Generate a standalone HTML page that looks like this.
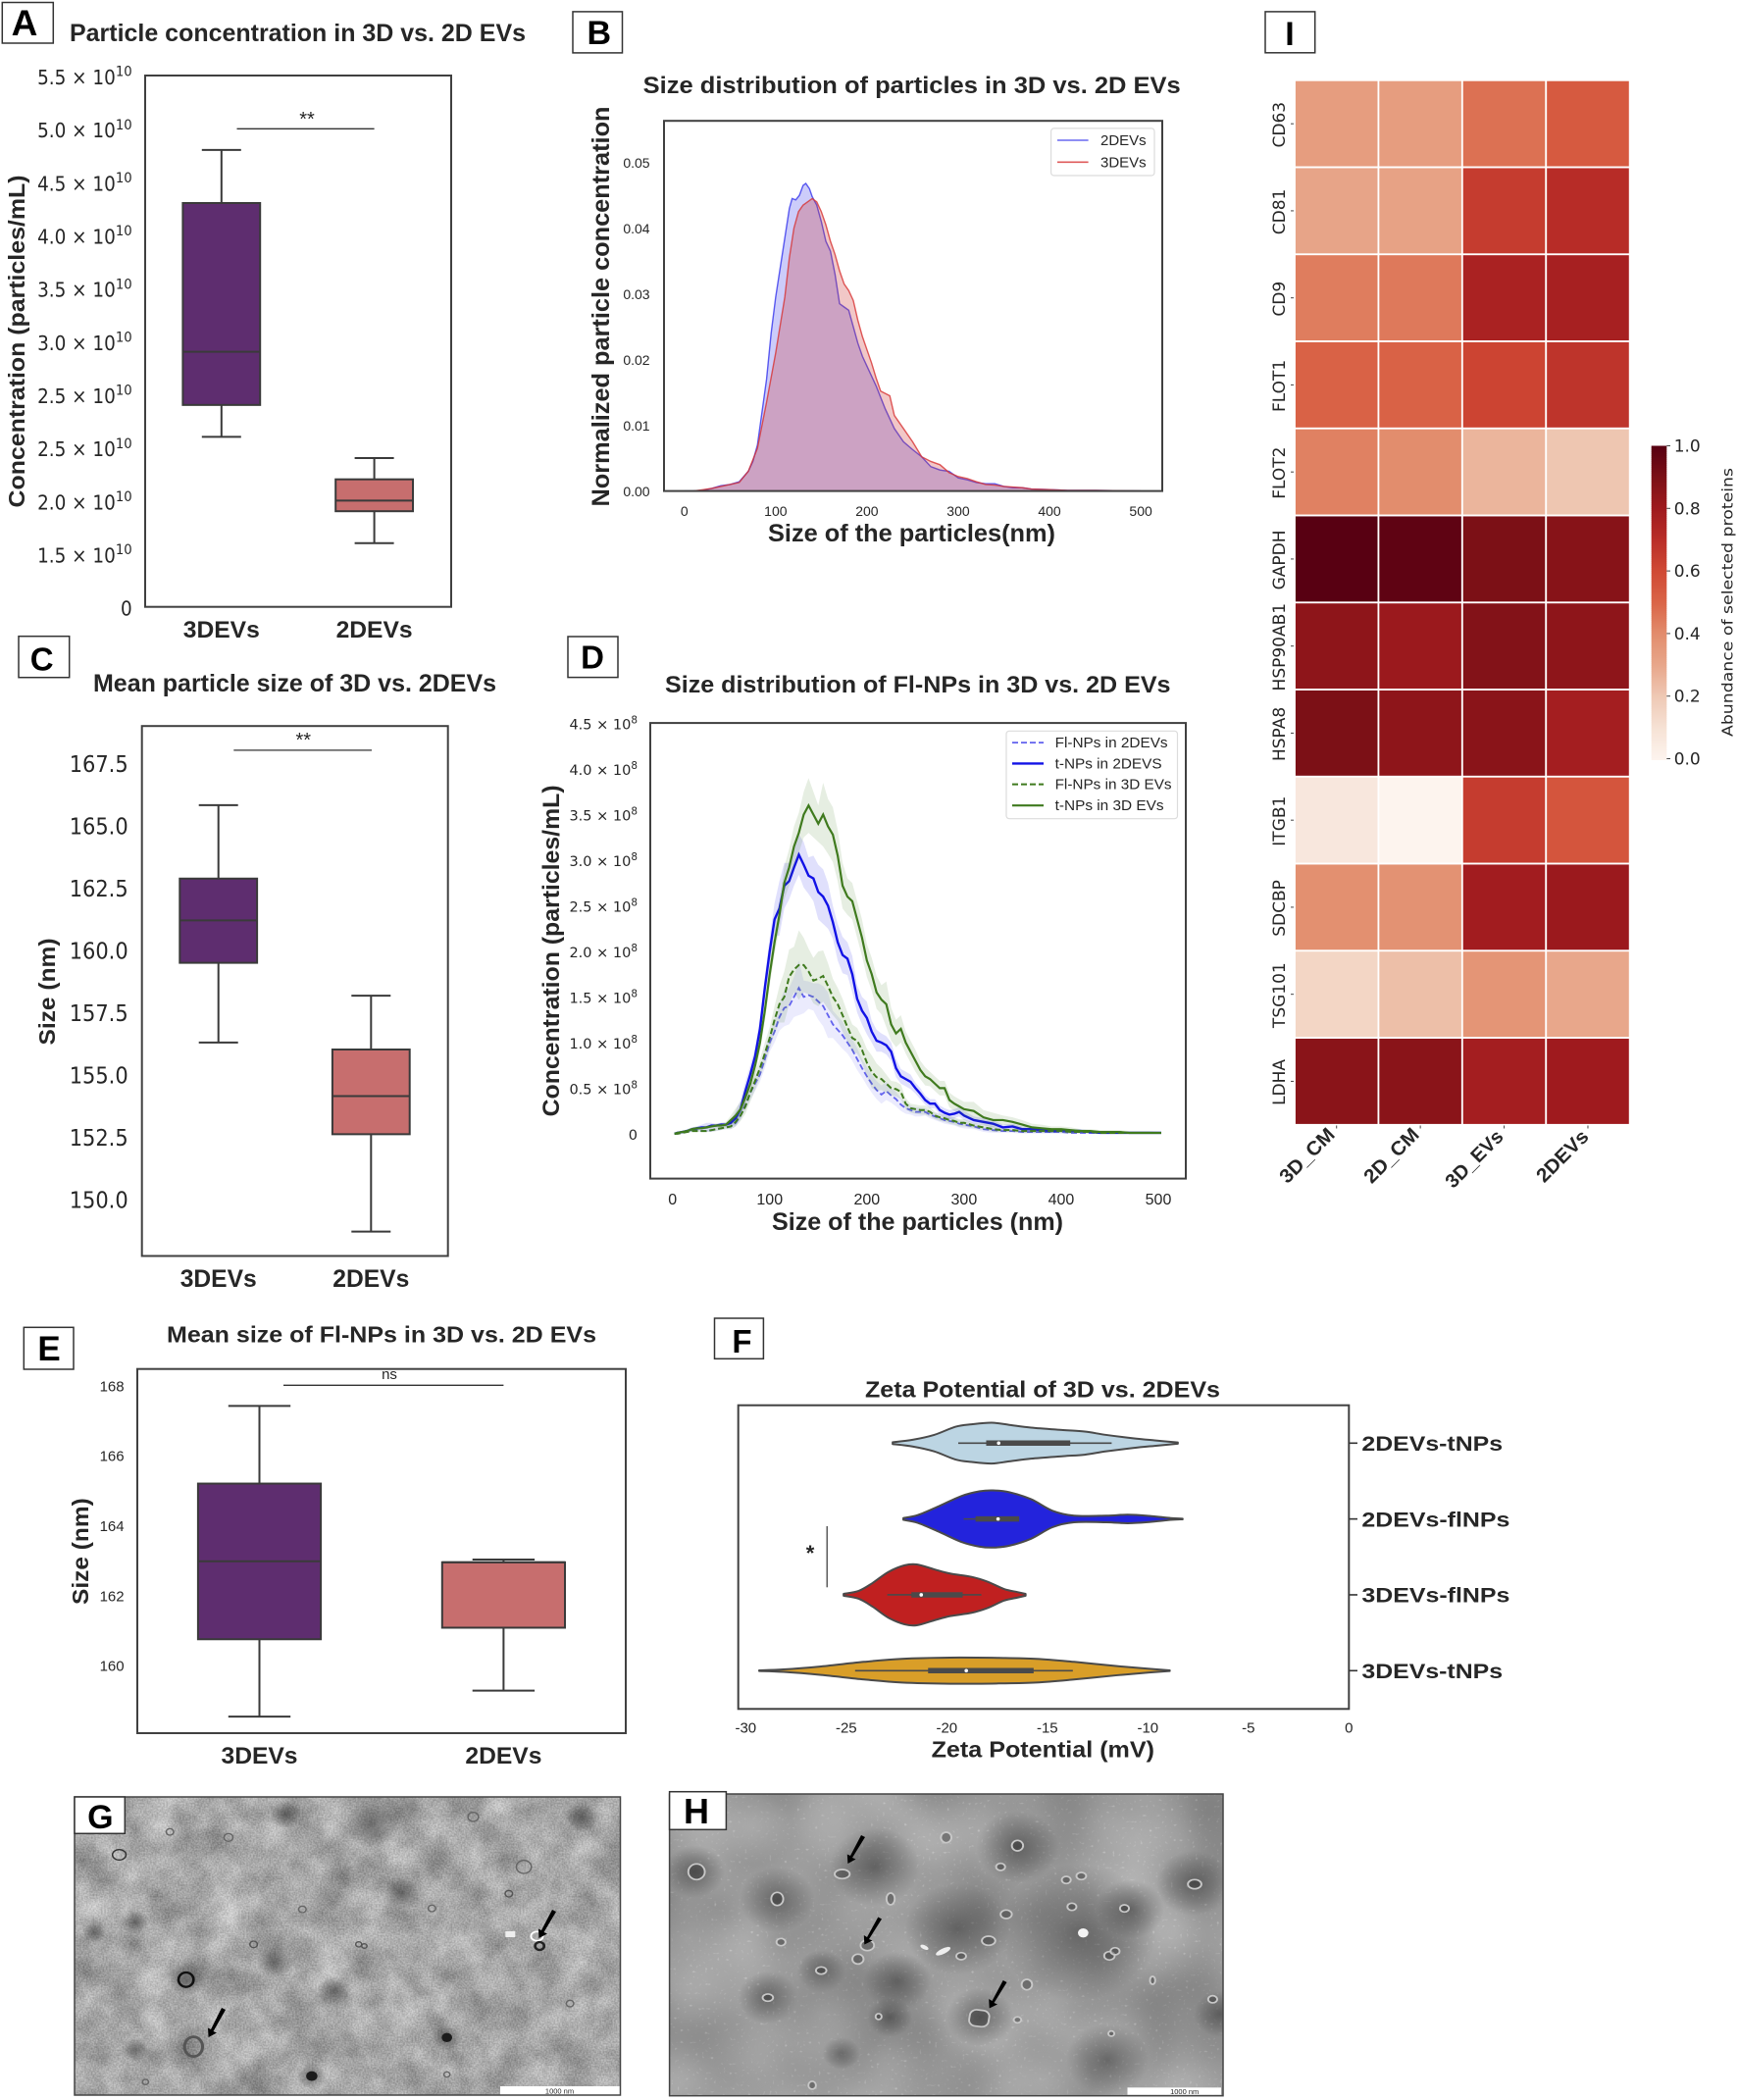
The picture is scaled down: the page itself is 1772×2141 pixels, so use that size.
<!DOCTYPE html>
<html lang="en">
<head>
<meta charset="utf-8">
<title>Characterisation of 3D vs. 2D EVs</title>
<style>
html,body{margin:0;padding:0;background:#fff;}
svg{display:block;}
text{font-family:"Liberation Sans",sans-serif;fill:#262626;}
.b{font-weight:bold;}
.letter{font-weight:bold;fill:#000;text-anchor:middle;}
.dj{font-family:"DejaVu Sans",sans-serif;}
.frame{fill:none;stroke:#404040;stroke-width:2;}
.lbox{fill:#fff;stroke:#333;stroke-width:1.5;}
.mid{text-anchor:middle;}
</style>
</head>
<body>
<svg id="fig" xmlns="http://www.w3.org/2000/svg" width="1772" height="2141" viewBox="0 0 1772 2141">
<defs>
<radialGradient id="cloud"><stop offset="0" stop-color="#2a2a2a" stop-opacity=".5"/><stop offset=".55" stop-color="#2a2a2a" stop-opacity=".25"/><stop offset="1" stop-color="#2a2a2a" stop-opacity="0"/></radialGradient>
<radialGradient id="lightCloud"><stop offset="0" stop-color="#b4b4b4" stop-opacity=".5"/><stop offset="1" stop-color="#b4b4b4" stop-opacity="0"/></radialGradient>
<filter id="texG" x="0" y="0" width="100%" height="100%" color-interpolation-filters="sRGB">
<feTurbulence type="fractalNoise" baseFrequency=".028" numOctaves="3" seed="7" result="n1"/>
<feColorMatrix in="n1" type="matrix" values=".5 0 0 0 .38  .5 0 0 0 .38  .5 0 0 0 .38  0 0 0 0 1" result="low"/>
<feTurbulence type="fractalNoise" baseFrequency=".6" numOctaves="1" seed="3" result="n2"/>
<feColorMatrix in="n2" type="matrix" values="1.3 0 0 0 .05  1.3 0 0 0 .05  1.3 0 0 0 .05  0 0 0 0 1" result="high"/>
<feComposite in="low" in2="high" operator="arithmetic" k1="0" k2=".8" k3=".24" k4="-.02"/>
</filter>
<filter id="texH" x="0" y="0" width="100%" height="100%" color-interpolation-filters="sRGB">
<feTurbulence type="fractalNoise" baseFrequency=".01" numOctaves="2" seed="11" result="n1"/>
<feColorMatrix in="n1" type="matrix" values=".3 0 0 0 .46  .3 0 0 0 .46  .3 0 0 0 .46  0 0 0 0 1" result="low"/>
<feTurbulence type="fractalNoise" baseFrequency=".32" numOctaves="1" seed="5" result="n2"/>
<feColorMatrix in="n2" type="matrix" values="6 0 0 0 -3.9  6 0 0 0 -3.9  6 0 0 0 -3.9  0 0 0 0 1" result="high"/>
<feComposite in="low" in2="high" operator="arithmetic" k1="0" k2="1" k3=".1" k4="0"/>
</filter>
<clipPath id="clipG"><rect x="76" y="1832" width="556.5" height="304"/></clipPath>
<clipPath id="clipH"><rect x="682.6" y="1829" width="564.4" height="307.7"/></clipPath>
</defs>
<rect width="1772" height="2141" fill="#fff"/>

<!-- Panel A -->
<g id="panelA">
<rect class="lbox" x="2.3" y="2.5" width="52" height="41.5"/>
<text class="letter" x="25" y="36" font-size="37">A</text>
<text class="b" x="71" y="42" font-size="25" textLength="465" lengthAdjust="spacingAndGlyphs">Particle concentration in 3D vs. 2D EVs</text>
<text class="b mid" transform="translate(25,348) rotate(-90)" font-size="23" textLength="339" lengthAdjust="spacingAndGlyphs">Concentration (particles/mL)</text>
<rect class="frame" x="148" y="77" width="312" height="541.7"/>
</g>

<!-- Panel B -->
<g id="panelB">
<rect class="lbox" x="584" y="11.9" width="50.5" height="42"/>
<text class="letter" x="610.8" y="45" font-size="34">B</text>
<text class="b" x="655.7" y="95" font-size="24" textLength="548" lengthAdjust="spacingAndGlyphs">Size distribution of particles in 3D vs. 2D EVs</text>
<text class="b mid" transform="translate(621,312.5) rotate(-90)" font-size="25" textLength="408" lengthAdjust="spacingAndGlyphs">Normalized particle concentration</text>
<text class="b mid" x="929.5" y="552" font-size="25" textLength="293" lengthAdjust="spacingAndGlyphs">Size of the particles(nm)</text>
</g>

<!-- Panel C -->
<g id="panelC">
<rect class="lbox" x="19" y="648.7" width="51.7" height="42"/>
<text class="letter" x="42.7" y="683.4" font-size="33">C</text>
<text class="b" x="95" y="705" font-size="25" textLength="411" lengthAdjust="spacingAndGlyphs">Mean particle size of 3D vs. 2DEVs</text>
<text class="b mid" transform="translate(56,1011) rotate(-90)" font-size="23" textLength="109" lengthAdjust="spacingAndGlyphs">Size (nm)</text>
<rect class="frame" x="144.7" y="740.2" width="312" height="540.3"/>
</g>

<!-- Panel D -->
<g id="panelD">
<rect class="lbox" x="579" y="649" width="51" height="41.6"/>
<text class="letter" x="604" y="681.6" font-size="33">D</text>
<text class="b" x="678" y="706" font-size="24" textLength="515.5" lengthAdjust="spacingAndGlyphs">Size distribution of Fl-NPs in 3D vs. 2D EVs</text>
<text class="b mid" transform="translate(570,969.4) rotate(-90)" font-size="24" textLength="338" lengthAdjust="spacingAndGlyphs">Concentration (particles/mL)</text>
<text class="b mid" x="935.5" y="1254" font-size="25" textLength="297" lengthAdjust="spacingAndGlyphs">Size of the particles (nm)</text>
</g>

<!-- Panel E -->
<g id="panelE">
<rect class="lbox" x="24.3" y="1353.3" width="50.7" height="42.7"/>
<text class="letter" x="50" y="1387" font-size="35">E</text>
<text class="b mid" x="389" y="1368.3" font-size="23" textLength="438" lengthAdjust="spacingAndGlyphs">Mean size of Fl-NPs in 3D vs. 2D EVs</text>
<text class="b mid" transform="translate(90,1581.6) rotate(-90)" font-size="23" textLength="108.7" lengthAdjust="spacingAndGlyphs">Size (nm)</text>
<rect class="frame" x="140" y="1395.7" width="498" height="371.3"/>
</g>

<!-- Panel F -->
<g id="panelF">
<rect class="lbox" x="728.5" y="1344" width="49.9" height="41.3"/>
<text class="letter" x="756.5" y="1379" font-size="33">F</text>
<text class="b mid" x="1063" y="1424.3" font-size="23" textLength="362" lengthAdjust="spacingAndGlyphs">Zeta Potential of 3D vs. 2DEVs</text>
<text class="b mid" x="1063.3" y="1791.7" font-size="23" textLength="227.4" lengthAdjust="spacingAndGlyphs">Zeta Potential (mV)</text>
<rect class="frame" x="752.7" y="1432.7" width="622.6" height="309.6"/>
<line x1="843.2" y1="1556" x2="843.2" y2="1618.3" stroke="#333" stroke-width="1.2"/>
<text class="b mid" x="826" y="1591" font-size="22">*</text>
</g>

<!-- Panel G micrograph -->
<g id="panelG">
<rect x="76" y="1832" width="556.5" height="304" fill="#a8a8a8" filter="url(#texG)"/>
<g clip-path="url(#clipG)"><g transform="translate(50,1820) scale(.3827,.3333)">
<circle cx="860" cy="120" r="70" fill="url(#cloud)"/><circle cx="1060" cy="775" r="40" fill="url(#cloud)"/><circle cx="365" cy="595" r="50" fill="url(#cloud)"/><circle cx="700" cy="890" r="40" fill="url(#cloud)"/><circle cx="760" cy="630" r="45" fill="url(#cloud)"/><circle cx="230" cy="810" r="35" fill="url(#cloud)"/><circle cx="120" cy="450" r="30" fill="url(#cloud)"/><circle cx="1420" cy="100" r="45" fill="url(#cloud)"/><circle cx="630" cy="90" r="40" fill="url(#cloud)"/><circle cx="230" cy="420" r="35" fill="url(#cloud)"/><circle cx="600" cy="540" r="50" fill="url(#cloud)"/><circle cx="940" cy="330" r="50" fill="url(#cloud)"/>
<g fill="none" stroke="#333" stroke-width="4">
<ellipse cx="187" cy="213" rx="18" ry="16"/>
<ellipse cx="365" cy="595" rx="20" ry="22" stroke="#111" stroke-width="7"/>
<ellipse cx="385" cy="800" rx="24" ry="30" stroke="#555" stroke-width="8"/>
<ellipse cx="1265" cy="250" rx="20" ry="20" stroke="#666"/>
<ellipse cx="1130" cy="97" rx="14" ry="14" stroke="#666"/>
<ellipse cx="1300" cy="462" rx="16" ry="14" stroke="#fff" stroke-width="5"/>
<ellipse cx="1307" cy="492" rx="12" ry="12" stroke="#222" stroke-width="7"/>
<ellipse cx="478" cy="160" rx="12" ry="12" stroke="#666"/>
<ellipse cx="322" cy="143" rx="10" ry="10" stroke="#666"/>
<ellipse cx="825" cy="487" rx="8" ry="8" stroke="#555"/>
<ellipse cx="840" cy="492" rx="7" ry="7" stroke="#555"/>
<ellipse cx="545" cy="487" rx="10" ry="10" stroke="#555"/>
<ellipse cx="257" cy="908" rx="8" ry="8" stroke="#666"/>
<ellipse cx="1225" cy="332" rx="10" ry="10" stroke="#555"/>
<ellipse cx="1020" cy="377" rx="10" ry="10" stroke="#666"/>
<ellipse cx="1388" cy="668" rx="10" ry="10" stroke="#666"/>
<ellipse cx="1060" cy="885" rx="8" ry="8" stroke="#666"/>
<ellipse cx="675" cy="380" rx="10" ry="10" stroke="#666"/>
</g>
<circle cx="700" cy="890" r="15" fill="#1c1c1c"/>
<circle cx="1060" cy="772" r="14" fill="#1c1c1c"/>
<rect x="1216" y="447" width="26" height="18" fill="#eee"/>
</g></g>
<polygon points="226,2047 230,2049 217.5,2071 221,2072.5 212.6,2077 212,2067.5 215,2069" fill="#000"/>
<polygon points="563,1947 567,1949 554.5,1970 558,1971.5 549.4,1976 549,1966.5 552,1968" fill="#000"/>
<rect x="510" y="2127" width="122" height="8.6" fill="#fff"/>
<text class="mid" x="570.5" y="2134.5" font-size="7.5">1000 nm</text>
<rect x="76" y="1832" width="556.5" height="304" fill="none" stroke="#444" stroke-width="1.5"/>
<rect class="lbox" x="76" y="1832" width="51.3" height="37.3"/>
<text class="letter" x="102.4" y="1864" font-size="34">G</text>
</g>

<!-- Panel H micrograph -->
<g id="panelH">
<rect x="682.6" y="1829" width="564.4" height="307.7" fill="#999" filter="url(#texH)"/>
<g clip-path="url(#clipH)"><g transform="translate(670,1820) scale(.3827,.3333)">
<circle cx="580" cy="250" r="120" fill="url(#cloud)"/><circle cx="100" cy="265" r="80" fill="url(#cloud)"/><circle cx="320" cy="350" r="100" fill="url(#cloud)"/><circle cx="960" cy="190" r="110" fill="url(#cloud)"/><circle cx="1430" cy="300" r="100" fill="url(#cloud)"/><circle cx="800" cy="440" r="140" fill="url(#cloud)"/><circle cx="1120" cy="450" r="210" fill="url(#cloud)"/><circle cx="1200" cy="840" r="110" fill="url(#cloud)"/><circle cx="860" cy="710" r="90" fill="url(#cloud)"/><circle cx="295" cy="650" r="80" fill="url(#cloud)"/><circle cx="437" cy="570" r="65" fill="url(#cloud)"/><circle cx="640" cy="600" r="90" fill="url(#cloud)"/><circle cx="1260" cy="380" r="90" fill="url(#cloud)"/><circle cx="620" cy="710" r="60" fill="url(#cloud)"/><circle cx="490" cy="820" r="50" fill="url(#cloud)"/><circle cx="1500" cy="700" r="70" fill="url(#cloud)"/>
<circle cx="440" cy="700" r="170" fill="url(#lightCloud)"/><circle cx="480" cy="110" r="120" fill="url(#lightCloud)"/><circle cx="80" cy="470" r="130" fill="url(#lightCloud)"/><circle cx="1030" cy="900" r="130" fill="url(#lightCloud)"/><circle cx="250" cy="130" r="110" fill="url(#lightCloud)"/>
<g fill="rgba(40,40,40,.4)" stroke="#c8c8c8" stroke-width="5">
<ellipse cx="105" cy="265" rx="22" ry="24"/>
<ellipse cx="493" cy="272" rx="20" ry="14"/>
<ellipse cx="320" cy="348" rx="16" ry="20"/>
<ellipse cx="622" cy="348" rx="11" ry="18"/>
<ellipse cx="770" cy="160" rx="14" ry="16"/>
<ellipse cx="960" cy="185" rx="15" ry="16"/>
<ellipse cx="915" cy="250" rx="12" ry="11"/>
<ellipse cx="1090" cy="290" rx="12" ry="11"/>
<ellipse cx="1130" cy="278" rx="13" ry="11"/>
<ellipse cx="1432" cy="303" rx="18" ry="14"/>
<ellipse cx="930" cy="395" rx="15" ry="13"/>
<ellipse cx="1105" cy="372" rx="12" ry="11"/>
<ellipse cx="1245" cy="377" rx="12" ry="11"/>
<ellipse cx="883" cy="476" rx="18" ry="14"/>
<ellipse cx="560" cy="490" rx="18" ry="16"/>
<ellipse cx="535" cy="532" rx="15" ry="15"/>
<ellipse cx="1205" cy="522" rx="14" ry="13"/>
<ellipse cx="1220" cy="508" rx="12" ry="11"/>
<ellipse cx="810" cy="523" rx="13" ry="11"/>
<ellipse cx="330" cy="480" rx="12" ry="11"/>
<ellipse cx="437" cy="567" rx="14" ry="11"/>
<ellipse cx="295" cy="650" rx="14" ry="11"/>
<rect x="832" y="688" width="52" height="50" rx="18" transform="rotate(8 858 713)"/>
<ellipse cx="985" cy="610" rx="14" ry="16"/>
<ellipse cx="960" cy="718" rx="10" ry="9"/>
<ellipse cx="590" cy="708" rx="8" ry="9"/>
<ellipse cx="1320" cy="597" rx="7" ry="12"/>
<ellipse cx="413" cy="918" rx="10" ry="12"/>
<ellipse cx="1480" cy="655" rx="12" ry="11"/>
<ellipse cx="1210" cy="760" rx="8" ry="8"/>
</g>
<circle cx="1135" cy="452" r="14" fill="#f4f4f4"/>
<ellipse cx="762" cy="508" rx="22" ry="8" fill="#eee" transform="rotate(-30 762 508)"/>
<ellipse cx="712" cy="496" rx="12" ry="6" fill="#eee" transform="rotate(30 712 496)"/>
</g></g>
<polygon points="878,1871 882,1873 869,1894 872.5,1895.5 864.4,1900 863.8,1890.5 867,1892" fill="#000"/>
<polygon points="895.3,1954.5 899,1956.5 886,1977 889.5,1978.5 881.3,1982.5 880.8,1973 884,1975" fill="#000"/>
<polygon points="1022.7,2019 1026.5,2021 1013.5,2042 1017,2043.5 1008.7,2047.5 1008.2,2038 1011.5,2040" fill="#000"/>
<rect x="1149.5" y="2128.3" width="95.5" height="7.4" fill="#fff"/>
<text class="mid" x="1207.7" y="2135" font-size="7.5">1000 nm</text>
<rect x="682.6" y="1829" width="564.4" height="307.7" fill="none" stroke="#444" stroke-width="1.5"/>
<rect class="lbox" x="682.6" y="1826.7" width="57.8" height="38.6"/>
<text class="letter" x="710" y="1859" font-size="36">H</text>
</g>

<!-- Panel I -->
<g id="panelI">
<rect class="lbox" x="1290" y="11.9" width="50.7" height="41.9"/>
<text class="letter" x="1315" y="46" font-size="34">I</text>
<text class="dj mid" transform="translate(1766.7,614) rotate(-90)" font-size="15.5" textLength="274" lengthAdjust="spacingAndGlyphs">Abundance of selected proteins</text>
</g>
</svg>

<script>
/* ---------- Panel A data (true axis units x1e10; printed tick labels kept as in the figure) ---------- */
const panelACategories = ['3DEVs', '2DEVs'];
const panelAWhiskerHigh = [4.30, 1.40];
const panelAQ3 = [3.80, 1.20];
const panelAMedian = [2.40, 1.00];
const panelAQ1 = [1.90, 0.90];
const panelAWhiskerLow = [1.60, 0.60];
const panelATickValues = [0, 0.5, 1, 1.5, 2, 2.5, 3, 3.5, 4, 4.5, 5];
const panelATickLabels = ['0', '1.5', '2.0', '2.5', '2.5', '3.0', '3.5', '4.0', '4.5', '5.0', '5.5'];

/* ---------- Panel B data ---------- */
const panelBSizes2D = [0,10,20,30,40,50,60,70,75,80,90,95,100,105,110,115,118,122,126,130,133,137,140,145,150,155,160,165,170,175,180,185,190,195,200,210,220,230,240,250,260,270,280,290,300,310,320,330,340,350,360,370,380,400,420,450,500];
const panelBValues2D = [0,0,.0001,.0004,.0008,.001,.0014,.003,.0045,.007,.017,.024,.0295,.034,.0385,.043,.0445,.0443,.045,.0465,.0468,.046,.0448,.0435,.041,.038,.0365,.033,.0285,.028,.0275,.025,.0225,.0205,.019,.016,.0125,.0095,.0075,.0063,.0052,.0037,.0032,.003,.002,.0017,.0013,.0011,.0011,.0007,.0005,.0005,.0003,.0002,.0001,.0001,0];
const panelBSizes3D = [10,15,20,30,40,50,60,70,80,90,100,110,115,120,125,130,135,140,145,150,155,160,165,170,175,180,185,190,195,200,205,210,215,225,230,240,250,260,270,280,290,300,310,320,330,340,350,360,370,380,400,420,450,500];
const panelBValues3D = [0,.0001,.0002,.0004,.0007,.001,.0013,.003,.0065,.0135,.021,.0295,.0355,.04,.0425,.0435,.044,.0445,.044,.0425,.0405,.038,.036,.0335,.0315,.0305,.029,.026,.0235,.0215,.0195,.0172,.0152,.0145,.0115,.0095,.0075,.0052,.0045,.004,.0028,.0022,.0019,.0014,.001,.0009,.0007,.0006,.0005,.0003,.0002,.0001,.0001,0];
const panelBXTicks = [0, 100, 200, 300, 400, 500];
const panelBYTicks = ['0.00', '0.01', '0.02', '0.03', '0.04', '0.05'];

/* ---------- Panel C data ---------- */
const panelCCategories = ['3DEVs', '2DEVs'];
const panelCWhiskerHigh = [165.81, 158.16];
const panelCQ3 = [162.86, 156.0];
const panelCMedian = [161.18, 154.13];
const panelCQ1 = [159.48, 152.6];
const panelCWhiskerLow = [156.28, 148.69];
const panelCTicks = ['150.0', '152.5', '155.0', '157.5', '160.0', '162.5', '165.0', '167.5'];

/* ---------- Panel D data (x1e8 particles/mL) ---------- */
const panelDSizes = [2,5,10,15,20,25,30,35,40,45,50,55,60,65,70,75,80,85,90,95,100,105,110,115,120,125,130,135,140,145,150,155,160,165,170,175,180,185,190,195,200,205,210,215,220,225,230,235,240,245,250,255,260,265,270,275,280,285,290,295,300,310,320,330,340,350,360,370,380,390,400,410,420,430,440,450,460,470,480,490,503];
const tNps3D = [0,.01,.02,.03,.05,.06,.06,.07,.08,.09,.09,.1,.15,.2,.27,.4,.55,.75,1.0,1.35,1.75,2.1,2.4,2.75,2.92,3.15,3.3,3.5,3.6,3.5,3.4,3.5,3.37,3.28,3.05,2.72,2.6,2.55,2.35,2.15,1.9,1.75,1.55,1.47,1.42,1.2,1.1,1.15,1.0,.9,.8,.7,.63,.6,.55,.5,.5,.37,.33,.3,.27,.25,.18,.15,.15,.13,.1,.07,.06,.05,.05,.04,.03,.03,.02,.02,.02,.01,.01,.01,.01];
const tNps2D = [0,.01,.02,.03,.05,.06,.07,.07,.09,.09,.1,.1,.12,.17,.27,.47,.65,.85,1.15,1.6,2.0,2.35,2.47,2.72,2.77,2.92,3.06,2.95,2.83,2.8,2.65,2.6,2.5,2.32,2.1,1.96,1.92,1.75,1.48,1.35,1.27,1.12,1.02,1.0,.97,.9,.72,.63,.6,.57,.5,.44,.37,.33,.33,.26,.23,.21,.22,.24,.2,.15,.13,.11,.07,.08,.05,.05,.04,.03,.04,.03,.03,.02,.01,.01,.01,.01,.01,.01,.01];
const flNps3D = [0,0,.01,.02,.03,.03,.03,.03,.04,.05,.06,.07,.08,.13,.2,.3,.45,.58,.72,.88,1.05,1.25,1.42,1.5,1.72,1.8,1.85,1.85,1.78,1.68,1.7,1.73,1.62,1.5,1.42,1.3,1.17,1.05,1.02,.92,.78,.68,.62,.6,.55,.5,.49,.46,.33,.28,.27,.26,.26,.24,.2,.18,.17,.15,.14,.12,.12,.09,.07,.05,.04,.04,.03,.03,.03,.03,.03,.02,.02,.02,.01,.01,.01,.01,.01,.01,.01];
const flNps2D = [0,0,.01,.02,.03,.04,.03,.03,.04,.05,.06,.07,.08,.12,.2,.32,.45,.55,.65,.82,1.0,1.12,1.28,1.38,1.4,1.5,1.6,1.5,1.52,1.5,1.45,1.4,1.3,1.2,1.14,1.08,1.0,.92,.82,.72,.63,.55,.48,.43,.47,.42,.38,.32,.28,.26,.24,.24,.24,.21,.19,.17,.15,.14,.13,.11,.1,.08,.05,.04,.03,.03,.02,.02,.02,.02,.02,.01,.01,.01,.01,.01,.01,.01,.01,.01,.01];
const tNps3DSpread = [0,.01,.01,.02,.02,.02,.02,.02,.02,.02,.03,.03,.05,.08,.08,.08,.08,.1,.1,.12,.13,.13,.15,.18,.2,.22,.22,.25,.3,.25,.2,.35,.3,.3,.28,.25,.2,.2,.2,.2,.18,.18,.18,.16,.25,.18,.15,.15,.12,.12,.12,.1,.1,.08,.08,.08,.08,.08,.08,.08,.08,.1,.08,.08,.05,.05,.05,.04,.04,.03,.03,.03,.02,.02,.02,.02,.02,.02,.02,.02,.01];
const tNps2DSpread = [0,.01,.01,.02,.02,.02,.03,.05,.03,.02,.02,.02,.03,.08,.1,.1,.1,.1,.12,.12,.15,.18,.3,.25,.2,.2,.22,.25,.2,.25,.3,.3,.25,.18,.2,.2,.18,.2,.15,.15,.18,.12,.12,.1,.1,.1,.1,.08,.08,.08,.06,.06,.05,.05,.05,.05,.05,.05,.05,.05,.05,.04,.04,.04,.03,.03,.03,.03,.02,.02,.02,.02,.02,.02,.01,.01,.01,.01,.01,.01,.01];
const flNps3DSpread = [0,0,.01,.01,.01,.01,.01,.01,.02,.02,.02,.02,.03,.05,.06,.08,.1,.1,.1,.12,.12,.15,.2,.28,.3,.25,.38,.3,.25,.25,.3,.28,.25,.2,.18,.18,.16,.15,.14,.14,.15,.18,.15,.12,.1,.08,.08,.08,.06,.05,.05,.05,.05,.05,.04,.04,.04,.04,.04,.04,.04,.03,.03,.03,.02,.02,.02,.02,.02,.02,.02,.02,.01,.01,.01,.01,.01,.01,.01,.01,.01];
const flNps2DSpread = [0,0,.01,.01,.01,.01,.01,.01,.02,.02,.02,.02,.03,.04,.05,.06,.08,.08,.08,.1,.1,.12,.15,.2,.2,.22,.3,.18,.15,.15,.2,.22,.25,.15,.15,.15,.12,.12,.12,.1,.1,.1,.1,.1,.1,.08,.08,.07,.06,.05,.05,.05,.04,.04,.04,.04,.04,.04,.04,.04,.04,.03,.03,.03,.02,.02,.02,.02,.02,.02,.02,.01,.01,.01,.01,.01,.01,.01,.01,.01,.01];
const panelDXTicks = [0, 100, 200, 300, 400, 500];
const panelDYTickValues = [0, 0.5, 1, 1.5, 2, 2.5, 3, 3.5, 4, 4.5];
const panelDYTickLabels = ['0', '0.5', '1.0', '1.5', '2.0', '2.5', '3.0', '3.5', '4.0', '4.5'];

/* ---------- Panel E data ---------- */
const panelECategories = ['3DEVs', '2DEVs'];
const panelEWhiskerHigh = [167.42, 163.03];
const panelEQ3 = [165.2, 162.95];
const panelEMedian = [162.98, 162.95];
const panelEQ1 = [160.75, 161.08];
const panelEWhiskerLow = [158.54, 159.28];
const panelETicks = [160, 162, 164, 166, 168];

/* ---------- Panel F data ---------- */
const zetaCategories = ['2DEVs-tNPs', '2DEVs-flNPs', '3DEVs-flNPs', '3DEVs-tNPs'];
const zetaColors = ['#bcd5e3', '#2323dc', '#c02020', '#d99e28'];
const zetaGrid2DT = [-22.69,-21.7,-20.63,-19.56,-18.76,-17.77,-16.89,-15.81,-14.21,-13.14,-12.07,-10.73,-9.66,-8.51];
const zetaDensity2DT = [.03,.11,.27,.54,.62,.67,.6,.51,.43,.38,.27,.16,.09,.02];
const zetaGrid2DF = [-22.16,-21.43,-20.36,-19.29,-18.36,-17.69,-16.89,-15.81,-14.74,-13.67,-12.07,-11,-9.93,-8.86,-8.27];
const zetaDensity2DF = [.03,.13,.43,.75,.91,.94,.88,.65,.27,.11,.11,.14,.1,.03,.01];
const zetaGrid3DF = [-25.13,-24.38,-23.71,-22.91,-22.1,-21.49,-20.63,-19.83,-18.76,-17.96,-17.15,-16.48,-16.08];
const zetaDensity3DF = [.03,.13,.38,.75,.97,1,.84,.7,.59,.43,.19,.09,.03];
const zetaGrid3DT = [-29.33,-28.12,-26.25,-24.11,-22.24,-19.83,-17.42,-15.55,-13.67,-11.53,-9.93,-8.91];
const zetaDensity3DT = [.01,.04,.14,.29,.39,.43,.42,.39,.29,.15,.06,.01];
const zetaWhiskerLow = [-19.43, -19.16, -22.96, -24.56];
const zetaQ1 = [-18.04, -18.57, -21.76, -20.93];
const zetaMedian = [-17.42, -17.45, -21.27, -19.03];
const zetaQ3 = [-13.86, -16.4, -19.21, -15.68];
const zetaWhiskerHigh = [-11.8, -16.4, -18.28, -13.73];
const zetaTicks = [-30, -25, -20, -15, -10, -5, 0];

/* ---------- Panel I data ---------- */
const heatmapProteins = ['CD63','CD81','CD9','FLOT1','FLOT2','GAPDH','HSP90AB1','HSPA8','ITGB1','SDCBP','TSG101','LDHA'];
const heatmapSamples = ['3D_CM','2D_CM','3D_EVs','2DEVs'];
const heatmap3DCM = [.34,.31,.44,.51,.43,1,.85,.9,.07,.39,.15,.86];
const heatmap2DCM = [.34,.32,.45,.51,.40,.98,.81,.85,0,.38,.23,.86];
const heatmap3DEVs = [.47,.65,.76,.62,.26,.9,.88,.86,.65,.79,.37,.78];
const heatmap2DEVs = [.54,.71,.77,.68,.21,.87,.85,.78,.56,.81,.3,.8];
const colorbarTicks = [0, 0.2, 0.4, 0.6, 0.8, 1];
const colormapStops = ['#fdf4ee','#f6e2d5','#efc9b5','#e8a78b','#e28d6d','#da6548','#d04a35','#ba2e28','#9f1a1e','#7c1016','#580012'];

/* ---------- drawing helpers ---------- */
const NS = 'http://www.w3.org/2000/svg';
function add(parent, tag, attrs, name) {
  const el = document.createElementNS(NS, tag);
  for (const k in attrs) el.setAttribute(k, attrs[k]);
  
  
  parent.appendChild(el);
  return el;
}
function addText(parent, attrs, str, name) {
  const el = add(parent, 'text', attrs, name);
  el.textContent = str;
  return el;
}
function linear(d0, d1, r0, r1) {
  return v => r0 + (v - d0) / (d1 - d0) * (r1 - r0);
}
function sciLabel(parent, x, y, mantissa, exp, size, name, squeeze) {
  const t = add(parent, 'text', {transform: 'translate(' + x + ',' + y + ') scale(' + (squeeze || 1) + ',1)', class: 'dj', 'text-anchor': 'end', 'font-size': size}, name);
  if (exp === null) { t.textContent = mantissa; return t; }
  t.textContent = mantissa + ' \u00d7 10';
  const s = document.createElementNS(NS, 'tspan');
  s.setAttribute('dy', -size * 0.42);
  s.setAttribute('font-size', size * 0.72);
  s.textContent = exp;
  t.appendChild(s);
  return t;
}
function drawBoxes(g, cfg) {
  const y = cfg.y;
  cfg.categories.forEach((cat, i) => {
    const cx = cfg.centers[i], hb = cfg.halfBox, hc = cfg.halfCap;
    add(g, 'line', {x1: cx, x2: cx, y1: y(cfg.hi[i]), y2: y(cfg.q3[i]), stroke: '#3a3a3a', 'stroke-width': 2}, 'whisker-upper-' + cat);
    add(g, 'line', {x1: cx, x2: cx, y1: y(cfg.q1[i]), y2: y(cfg.lo[i]), stroke: '#3a3a3a', 'stroke-width': 2}, 'whisker-lower-' + cat);
    add(g, 'line', {x1: cx - hc, x2: cx + hc, y1: y(cfg.hi[i]), y2: y(cfg.hi[i]), stroke: '#3a3a3a', 'stroke-width': 2}, 'cap-upper-' + cat);
    add(g, 'line', {x1: cx - hc, x2: cx + hc, y1: y(cfg.lo[i]), y2: y(cfg.lo[i]), stroke: '#3a3a3a', 'stroke-width': 2}, 'cap-lower-' + cat);
    add(g, 'rect', {x: cx - hb, y: y(cfg.q3[i]), width: 2 * hb, height: y(cfg.q1[i]) - y(cfg.q3[i]), fill: cfg.colors[i], stroke: '#3a3a3a', 'stroke-width': 2}, 'box-' + cat);
    add(g, 'line', {x1: cx - hb, x2: cx + hb, y1: y(cfg.median[i]), y2: y(cfg.median[i]), stroke: '#3a3a3a', 'stroke-width': 2}, 'median-' + cat);
    addText(g, {x: cx, y: cfg.labelY, class: 'b mid', 'font-size': cfg.labelFont, textLength: 78, lengthAdjust: 'spacingAndGlyphs'}, cat, 'x-tick-label-' + cat);
  });
}
function smoothPath(pts) {
  let d = 'M' + pts[0][0].toFixed(2) + ' ' + pts[0][1].toFixed(2);
  for (let i = 0; i < pts.length - 1; i++) {
    const p0 = pts[Math.max(0, i - 1)], p1 = pts[i], p2 = pts[i + 1], p3 = pts[Math.min(pts.length - 1, i + 2)];
    const c1 = [p1[0] + (p2[0] - p0[0]) / 6, p1[1] + (p2[1] - p0[1]) / 6];
    const c2 = [p2[0] - (p3[0] - p1[0]) / 6, p2[1] - (p3[1] - p1[1]) / 6];
    d += 'C' + c1[0].toFixed(2) + ' ' + c1[1].toFixed(2) + ' ' + c2[0].toFixed(2) + ' ' + c2[1].toFixed(2) + ' ' + p2[0].toFixed(2) + ' ' + p2[1].toFixed(2);
  }
  return d;
}
function polyD(xs, ys, x, y) {
  return xs.map((v, i) => (i ? 'L' : 'M') + x(v).toFixed(2) + ' ' + y(ys[i]).toFixed(2)).join('');
}
const boxColors = ['#5e2d6f', '#c76e6e'];

/* ---------- Panel A ---------- */
(function () {
  const g = document.getElementById('panelA');
  const y = linear(0, 5, 618.7, 77);
  drawBoxes(g, {categories: panelACategories, centers: [225.8, 381.6], halfBox: 39.4, halfCap: 20, y: y,
    hi: panelAWhiskerHigh, q3: panelAQ3, median: panelAMedian, q1: panelAQ1, lo: panelAWhiskerLow,
    colors: boxColors, labelY: 650, labelFont: 24});
  panelATickValues.forEach((v, i) => {
    const label = panelATickLabels[i];
    sciLabel(g, 134.7, y(v) + 9, label, label === '0' ? null : '10', 20, 'y-tick-label', 0.92);
  });
  add(g, 'line', {x1: 241.5, x2: 381.6, y1: 131.3, y2: 131.3, stroke: '#333', 'stroke-width': 1.3}, 'significance-line');
  addText(g, {x: 313, y: 128, class: 'mid', 'font-size': 20}, '**', 'significance-stars');
})();

/* ---------- Panel B ---------- */
(function () {
  const g = document.getElementById('panelB');
  const x = linear(0, 500, 697.8, 1163.1);
  const y = linear(0, 0.05, 500.6, 165.6);
  const base = y(0);
  function kde(xs, ys, line, fill, name) {
    add(g, 'path', {d: polyD(xs, ys, x, y) + 'L' + x(xs[xs.length - 1]) + ' ' + base + 'L' + x(xs[0]) + ' ' + base + 'Z', fill: fill, stroke: 'none'}, name + '-area');
    add(g, 'path', {d: polyD(xs, ys, x, y), fill: 'none', stroke: line, 'stroke-width': 1.4}, name + '-line');
  }
  kde(panelBSizes2D, panelBValues2D, 'rgba(40,40,235,.75)', 'rgba(40,40,235,.24)', '2devs-distribution');
  kde(panelBSizes3D, panelBValues3D, 'rgba(215,50,50,.8)', 'rgba(205,55,55,.28)', '3devs-distribution');
  add(g, 'rect', {x: 677, y: 123.2, width: 508, height: 377.4, fill: 'none', stroke: '#404040', 'stroke-width': 2}, 'panel-b-plot-frame');
  panelBXTicks.forEach(t => {
    addText(g, {x: x(t), y: 526, class: 'mid', 'font-size': 14, fill: '#333'}, String(t), 'x-tick-label');
  });
  panelBYTicks.forEach(t => {
    addText(g, {x: 662.6, y: y(+t) + 5.5, 'text-anchor': 'end', 'font-size': 14}, t, 'y-tick-label');
  });
  add(g, 'rect', {x: 1071.6, y: 130.9, width: 105.4, height: 48.1, rx: 3, fill: '#fff', stroke: '#dcdcdc', 'stroke-width': 1.2}, 'legend-box');
  add(g, 'line', {x1: 1078, x2: 1109.6, y1: 143, y2: 143, stroke: 'rgba(40,40,235,.7)', 'stroke-width': 1.6}, 'legend-line-2devs');
  addText(g, {x: 1122, y: 148, 'font-size': 15}, '2DEVs', 'legend-entry-2devs');
  add(g, 'line', {x1: 1078, x2: 1109.6, y1: 165.3, y2: 165.3, stroke: 'rgba(215,50,50,.8)', 'stroke-width': 1.6}, 'legend-line-3devs');
  addText(g, {x: 1122, y: 170.3, 'font-size': 15}, '3DEVs', 'legend-entry-3devs');
})();

/* ---------- Panel C ---------- */
(function () {
  const g = document.getElementById('panelC');
  const y = linear(150, 167.5, 1222.4, 777.9);
  drawBoxes(g, {categories: panelCCategories, centers: [222.7, 378.3], halfBox: 39.4, halfCap: 20, y: y,
    hi: panelCWhiskerHigh, q3: panelCQ3, median: panelCMedian, q1: panelCQ1, lo: panelCWhiskerLow,
    colors: boxColors, labelY: 1312, labelFont: 25});
  panelCTicks.forEach(t => {
    addText(g, {x: 130.7, y: y(+t) + 9, class: 'dj', 'text-anchor': 'end', 'font-size': 23, textLength: 60, lengthAdjust: 'spacingAndGlyphs'}, t, 'y-tick-label');
  });
  add(g, 'line', {x1: 238.3, x2: 379, y1: 764.9, y2: 764.9, stroke: '#333', 'stroke-width': 1.3}, 'significance-line');
  addText(g, {x: 309.3, y: 761, class: 'mid', 'font-size': 20}, '**', 'significance-stars');
})();

/* ---------- Panel D ---------- */
(function () {
  const g = document.getElementById('panelD');
  const x = linear(0, 500, 685.7, 1181);
  const y = linear(0, 4.5, 1155.9, 737.5);
  function series(vals, spread, color, dash, width, name) {
    const upper = vals.map((v, i) => v + spread[i]);
    const lower = vals.map((v, i) => Math.max(0, v - spread[i]));
    let d = polyD(panelDSizes, upper, x, y);
    for (let i = panelDSizes.length - 1; i >= 0; i--) d += 'L' + x(panelDSizes[i]).toFixed(2) + ' ' + y(lower[i]).toFixed(2);
    add(g, 'path', {d: d + 'Z', fill: color, 'fill-opacity': .13, stroke: 'none'}, name + '-band');
    const attrs = {d: polyD(panelDSizes, vals, x, y), fill: 'none', stroke: color, 'stroke-width': width};
    if (dash) attrs['stroke-dasharray'] = dash;
    add(g, 'path', attrs, name + '-line');
  }
  series(flNps2D, flNps2DSpread, '#6262ee', '6 3', 1.8, 'fl-nps-2devs');
  series(tNps2D, tNps2DSpread, '#1212e6', null, 2.4, 't-nps-2devs');
  series(flNps3D, flNps3DSpread, '#3f7a1e', '6 3', 2, 'fl-nps-3devs');
  series(tNps3D, tNps3DSpread, '#3f7a1e', null, 2.2, 't-nps-3devs');
  add(g, 'rect', {x: 663, y: 737.1, width: 546, height: 464.5, fill: 'none', stroke: '#404040', 'stroke-width': 2}, 'panel-d-plot-frame');
  panelDXTicks.forEach(t => {
    addText(g, {x: x(t), y: 1227.8, class: 'mid', 'font-size': 16}, String(t), 'x-tick-label');
  });
  panelDYTickValues.forEach((v, i) => {
    const label = panelDYTickLabels[i];
    sciLabel(g, 650, y(v) + 6, label, label === '0' ? null : '8', 14.5, 'y-tick-label');
  });
  add(g, 'rect', {x: 1026, y: 745.3, width: 174.5, height: 89.4, rx: 3, fill: '#fff', stroke: '#dcdcdc', 'stroke-width': 1.2}, 'legend-box');
  add(g, 'line', {x1: 1032, x2: 1064, y1: 757.1, y2: 757.1, stroke: '#6262ee', 'stroke-width': 1.8, 'stroke-dasharray': '6 3'}, 'legend-line-fl-2devs');
  addText(g, {x: 1075.6, y: 762, 'font-size': 15, textLength: 115, lengthAdjust: 'spacingAndGlyphs'}, 'Fl-NPs in 2DEVs', 'legend-entry-fl-2devs');
  add(g, 'line', {x1: 1032, x2: 1064, y1: 778.4, y2: 778.4, stroke: '#1212e6', 'stroke-width': 2.4}, 'legend-line-t-2devs');
  addText(g, {x: 1075.6, y: 783.3, 'font-size': 15, textLength: 109, lengthAdjust: 'spacingAndGlyphs'}, 't-NPs in 2DEVS', 'legend-entry-t-2devs');
  add(g, 'line', {x1: 1032, x2: 1064, y1: 799.6, y2: 799.6, stroke: '#3f7a1e', 'stroke-width': 2, 'stroke-dasharray': '6 3'}, 'legend-line-fl-3devs');
  addText(g, {x: 1075.6, y: 804.5, 'font-size': 15, textLength: 119, lengthAdjust: 'spacingAndGlyphs'}, 'Fl-NPs in 3D EVs', 'legend-entry-fl-3devs');
  add(g, 'line', {x1: 1032, x2: 1064, y1: 821.2, y2: 821.2, stroke: '#3f7a1e', 'stroke-width': 2.2}, 'legend-line-t-3devs');
  addText(g, {x: 1075.6, y: 826, 'font-size': 15, textLength: 111, lengthAdjust: 'spacingAndGlyphs'}, 't-NPs in 3D EVs', 'legend-entry-t-3devs');
})();

/* ---------- Panel E ---------- */
(function () {
  const g = document.getElementById('panelE');
  const y = linear(160, 168, 1698, 1412.7);
  drawBoxes(g, {categories: panelECategories, centers: [264.5, 513.4], halfBox: 62.6, halfCap: 31.7, y: y,
    hi: panelEWhiskerHigh, q3: panelEQ3, median: panelEMedian, q1: panelEQ1, lo: panelEWhiskerLow,
    colors: boxColors, labelY: 1798, labelFont: 24});
  panelETicks.forEach(t => {
    addText(g, {x: 126.6, y: y(t) + 5.6, 'text-anchor': 'end', 'font-size': 15}, String(t), 'y-tick-label');
  });
  add(g, 'line', {x1: 289, x2: 513.4, y1: 1412.3, y2: 1412.3, stroke: '#333', 'stroke-width': 1.3}, 'significance-line');
  addText(g, {x: 397, y: 1406, class: 'mid', 'font-size': 15}, 'ns', 'significance-label');
})();

/* ---------- Panel F ---------- */
(function () {
  const g = document.getElementById('panelF');
  const x = linear(-30, 0, 760.3, 1375.3);
  const rowY = i => 1471.3 + i * 77.33;
  const maxHalf = 31;
  const grids = [zetaGrid2DT, zetaGrid2DF, zetaGrid3DF, zetaGrid3DT];
  const densities = [zetaDensity2DT, zetaDensity2DF, zetaDensity3DF, zetaDensity3DT];
  zetaCategories.forEach((cat, i) => {
    const cy = rowY(i);
    const top = grids[i].map((v, k) => [x(v), cy - densities[i][k] * maxHalf]);
    const bot = grids[i].map((v, k) => [x(v), cy + densities[i][k] * maxHalf]).reverse();
    const d = smoothPath(top) + 'L' + smoothPath(bot).slice(1) + 'Z';
    add(g, 'path', {d: d, fill: zetaColors[i], stroke: '#4a4a4a', 'stroke-width': 2, 'stroke-linejoin': 'round'}, 'violin-' + cat);
    add(g, 'line', {x1: x(zetaWhiskerLow[i]), x2: x(zetaWhiskerHigh[i]), y1: cy, y2: cy, stroke: '#4a4a4a', 'stroke-width': 1.6}, 'violin-whisker-' + cat);
    add(g, 'line', {x1: x(zetaQ1[i]), x2: x(zetaQ3[i]), y1: cy, y2: cy, stroke: '#4a4a4a', 'stroke-width': 5.5}, 'violin-iqr-' + cat);
    add(g, 'circle', {cx: x(zetaMedian[i]), cy: cy, r: 1.8, fill: '#fff'}, 'violin-median-' + cat);
    add(g, 'line', {x1: 1375.3, x2: 1384, y1: cy, y2: cy, stroke: '#333', 'stroke-width': 1.6}, 'y-tick');
    addText(g, {x: 1388.4, y: cy + 7.7, class: 'b', 'font-size': 21, textLength: cat.indexOf('fl') >= 0 ? 151 : 143.7, lengthAdjust: 'spacingAndGlyphs'}, cat, 'y-tick-label-' + cat);
  });
  zetaTicks.forEach(t => {
    addText(g, {x: x(t), y: 1766.7, class: 'mid', 'font-size': 15}, String(t), 'x-tick-label');
  });
})();

/* ---------- Panel I ---------- */
(function () {
  const g = document.getElementById('panelI');
  const left = 1320, cellW = 85.42, top = 81.8, cellH = 88.75;
  function hexToRgb(h) { return [1, 3, 5].map(i => parseInt(h.substr(i, 2), 16)); }
  function color(v) {
    const p = Math.max(0, Math.min(1, v)) * (colormapStops.length - 1);
    const i = Math.min(colormapStops.length - 2, Math.floor(p)), t = p - i;
    const a = hexToRgb(colormapStops[i]), b = hexToRgb(colormapStops[i + 1]);
    return 'rgb(' + a.map((c, k) => Math.round(c + (b[k] - c) * t)).join(',') + ')';
  }
  const columns = [heatmap3DCM, heatmap2DCM, heatmap3DEVs, heatmap2DEVs];
  heatmapProteins.forEach((p, r) => {
    const cy = top + (r + .5) * cellH;
    columns.forEach((col, c) => {
      add(g, 'rect', {x: left + c * cellW, y: top + r * cellH, width: cellW, height: cellH, fill: color(col[r]), stroke: '#fff', 'stroke-width': 1.8}, 'heatmap-cell-' + p + '-' + heatmapSamples[c]);
    });
    add(g, 'line', {x1: 1316, x2: 1319, y1: cy, y2: cy, stroke: '#444', 'stroke-width': 1}, 'y-tick');
    addText(g, {transform: 'translate(1310,' + (cy + 1) + ') rotate(-90)', class: 'dj mid', 'font-size': 17}, p, 'row-label-' + p);
  });
  const labelLengths = [70, 70, 74, 66];
  const labelEnds = [[1362, 1158], [1448, 1158], [1534, 1160], [1621, 1160]];
  heatmapSamples.forEach((s, c) => {
    const cx = left + (c + .5) * cellW;
    add(g, 'line', {x1: cx, x2: cx, y1: 1147.5, y2: 1150.5, stroke: '#444', 'stroke-width': 1}, 'x-tick');
    addText(g, {transform: 'translate(' + labelEnds[c][0] + ',' + labelEnds[c][1] + ') rotate(-45)', class: 'b', 'text-anchor': 'end', 'font-size': 20, textLength: labelLengths[c], lengthAdjust: 'spacingAndGlyphs'}, s, 'column-label-' + s);
  });
  const cbTop = 454.5, cbBottom = 773.5;
  const cbY = linear(0, 1, cbBottom, cbTop);
  const cbGroup = add(g, 'g', {}, 'colorbar');
  for (let py = cbTop; py < cbBottom; py += 2) {
    add(cbGroup, 'rect', {x: 1683.7, y: py, width: 15.6, height: 2.4, fill: color((cbBottom - py) / (cbBottom - cbTop))}, 'colorbar-step');
  }
  colorbarTicks.forEach(t => {
    add(g, 'line', {x1: 1699.3, x2: 1703, y1: cbY(t), y2: cbY(t), stroke: '#444', 'stroke-width': 1}, 'colorbar-tick');
    addText(g, {x: 1706.7, y: cbY(t) + 6, class: 'dj', 'font-size': 17}, t.toFixed(1), 'colorbar-tick-label');
  });
})();
</script>
</body>
</html>
